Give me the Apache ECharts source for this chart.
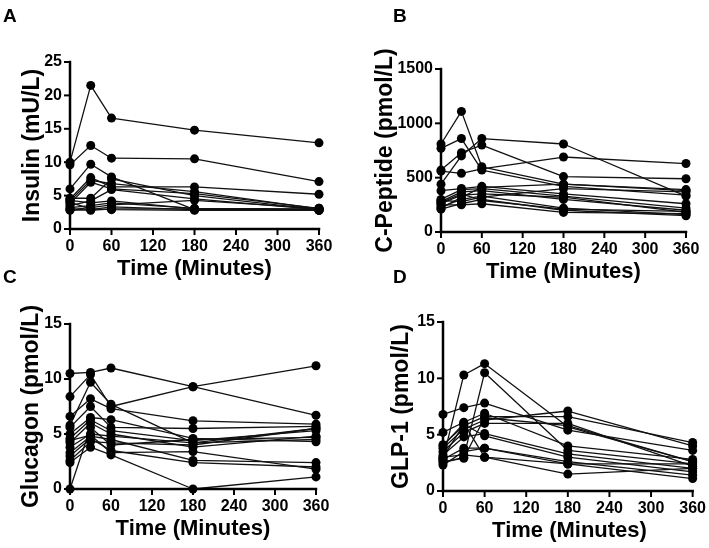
<!DOCTYPE html>
<html>
<head>
<meta charset="utf-8">
<script src="https://cdn.jsdelivr.net/npm/echarts@6/dist/echarts.min.js"></script>
<style>
  html, body { margin: 0; padding: 0; background: #fff; }
  #wrap { position: relative; width: 709px; height: 548px; overflow: hidden; }
  .panel { position: absolute; }
</style>
</head>
<body>
<div id="wrap">
  <div class="panel" id="pA" style="left:0;top:0;width:354px;height:290px"></div>
  <div class="panel" id="pB" style="left:354px;top:0;width:355px;height:290px"></div>
  <div class="panel" id="pC" style="left:0;top:260px;width:354px;height:288px"></div>
  <div class="panel" id="pD" style="left:354px;top:260px;width:355px;height:288px"></div>
</div>
<script>
// sampling times (minutes)
const times = [0, 30, 60, 180, 360];
const xTicks = [0, 60, 120, 180, 240, 300, 360];

// one row per subject, values at each time point
const insulin = [
  [10.0, 21.5, 16.6, 14.8, 12.9],
  [9.6, 12.5, 10.6, 10.5, 7.1],
  [6.0, 9.7, 7.8, 2.9, 2.9],
  [4.5, 7.7, 6.3, 6.3, 5.2],
  [4.2, 7.3, 6.8, 5.6, 3.0],
  [3.8, 7.0, 6.0, 5.3, 3.1],
  [4.6, 4.6, 7.5, 5.0, 2.9],
  [3.5, 4.2, 5.9, 4.5, 2.9],
  [4.3, 3.9, 4.2, 3.0, 2.8],
  [3.2, 3.5, 3.9, 3.1, 3.0],
  [2.9, 3.2, 3.6, 4.3, 3.1],
  [2.8, 2.9, 3.3, 2.9, 2.8],
  [3.0, 2.8, 3.0, 3.0, 2.9],
  [4.0, 3.0, 2.9, 2.8, 2.8]
];

const cPeptide = [
  [810, 1110, 600, 440, 380],
  [770, 860, 570, 420, 340],
  [440, 700, 860, 810, 330],
  [570, 730, 800, 510, 490],
  [560, 540, 580, 690, 630],
  [380, 400, 420, 350, 260],
  [300, 390, 400, 330, 220],
  [280, 370, 380, 300, 200],
  [260, 340, 350, 320, 180],
  [230, 300, 330, 220, 160],
  [210, 260, 300, 200, 150],
  [250, 250, 260, 180, 170],
  [290, 280, 320, 400, 370],
  [270, 350, 290, 210, 190],
  [220, 320, 410, 440, 390]
];

const glucagon = [
  [10.5, 10.6, 11.0, 9.3, 6.7],
  [8.4, 10.4, 7.5, 9.3, 11.2],
  [5.8, 9.7, 7.7, 4.2, 5.5],
  [6.6, 8.2, 7.3, 6.2, 5.9],
  [5.6, 7.5, 5.6, 5.5, 5.7],
  [5.0, 6.5, 6.3, 4.6, 4.3],
  [4.6, 6.3, 5.3, 4.4, 5.3],
  [4.2, 6.0, 5.0, 3.8, 4.8],
  [3.8, 5.0, 4.8, 4.2, 4.5],
  [3.3, 4.8, 4.5, 2.6, 2.4],
  [3.0, 4.6, 3.5, 2.4, 2.0],
  [2.6, 4.3, 4.2, 4.0, 5.5],
  [2.4, 3.8, 3.1, 0.0, 1.1],
  [0.0, 5.6, 4.0, 4.5, 4.7],
  [4.4, 4.9, 3.3, 3.4, 1.8]
];

const glp1 = [
  [2.8, 10.3, 11.3, 5.7, 2.6],
  [2.5, 3.0, 10.5, 3.6, 2.4],
  [6.8, 7.4, 7.8, 5.4, 3.6],
  [5.2, 6.1, 6.9, 4.0, 2.8],
  [4.1, 5.8, 6.6, 6.6, 4.3],
  [3.8, 5.5, 6.3, 7.1, 4.0],
  [3.5, 5.2, 6.0, 6.0, 2.2],
  [3.2, 4.8, 5.1, 3.3, 2.0],
  [3.0, 5.9, 4.9, 3.0, 1.7],
  [2.8, 3.8, 3.8, 2.6, 1.4],
  [2.3, 3.5, 3.8, 2.4, 1.1],
  [3.0, 3.2, 3.0, 1.5, 2.0],
  [2.6, 2.9, 6.5, 5.8, 2.6],
  [4.0, 6.0, 3.0, 2.4, 2.4]
];

const panelLetters = ['A', 'B', 'C', 'D'];
const xName = 'Time (Minutes)';
const yNames = ['Insulin (mU/L)', 'C-Peptide (pmol/L)', 'Glucagon (pmol/L)', 'GLP-1 (pmol/L)'];
const yMax = [25, 1500, 15, 15];
const yStep = [5, 500, 5, 5];
const panelData = [insulin, cPeptide, glucagon, glp1];
const panelIds = ['pA', 'pB', 'pC', 'pD'];

const font = 'Liberation Sans, Arial, sans-serif';

// panel geometry, relative to each panel's own box
const boxes = [[354, 290], [355, 290], [354, 288], [355, 288]];
const grids = [
  { left: 70, right: 35, top: 62, bottom: 61 },
  { left: 87, right: 23, top: 69, bottom: 58 },
  { left: 70, right: 38, top: 64, bottom: 59 },
  { left: 89, right: 13, top: 62, bottom: 57 }
];
const letterPos = [[3, 7], [39, 7], [3, 8], [39, 8]];
const yNameOffset = [37, 55, 38, 41];

const labelStyle = () => ({ fontFamily: font, fontWeight: 'bold', fontSize: 16, color: '#000' });

const titleText = (text, x, y, size, rot) => ({
  type: 'text',
  x: x,
  y: y,
  rotation: rot,
  silent: true,
  style: {
    text: text,
    fontFamily: font,
    fontWeight: 'bold',
    fontSize: size,
    fill: '#000',
    align: 'center',
    verticalAlign: 'middle'
  }
});

const seg = (x1, y1, x2, y2, w) => ({
  type: 'line',
  silent: true,
  z: 10,
  shape: { x1: x1, y1: y1, x2: x2, y2: y2 },
  style: { stroke: '#000', lineWidth: w, lineCap: 'square' }
});

panelData.forEach((rows, p) => {
  const chart = echarts.init(document.getElementById(panelIds[p]));
  const g = grids[p];
  const w = boxes[p][0], h = boxes[p][1];
  const axisY = h - g.bottom;
  const midX = (g.left + (w - g.right)) / 2;
  const midY = (g.top + axisY) / 2;

  const series = rows.map(row => ({
    type: 'line',
    data: times.map((t, k) => [t, row[k]]),
    symbol: 'circle',
    symbolSize: 9,
    lineStyle: { color: '#111', width: 1.3 },
    itemStyle: { color: '#000' },
    emphasis: { disabled: true },
    clip: false,
    animation: false
  }));

  chart.setOption({
    animation: false,
    title: {
      text: panelLetters[p],
      left: letterPos[p][0],
      top: letterPos[p][1],
      padding: 0,
      textStyle: { fontFamily: font, fontWeight: 'bold', fontSize: 19, color: '#000' }
    },
    grid: g,
    xAxis: {
      type: 'value',
      min: 0,
      max: 360,
      interval: 60,
      axisLine: { show: false },
      axisTick: { show: false },
      splitLine: { show: false },
      axisLabel: Object.assign(labelStyle(), { margin: 10 })
    },
    yAxis: {
      type: 'value',
      min: 0,
      max: yMax[p],
      interval: yStep[p],
      axisLine: { show: false },
      axisTick: { show: false },
      splitLine: { show: false },
      axisLabel: Object.assign(labelStyle(), { margin: 8, formatter: v => String(v) })
    },
    series: series
  });

  // axis lines and ticks placed through the chart's own scales
  const origin = chart.convertToPixel({ gridIndex: 0 }, [0, 0]);
  const xEnd = chart.convertToPixel({ gridIndex: 0 }, [360, 0]);
  const yEnd = chart.convertToPixel({ gridIndex: 0 }, [0, yMax[p]]);
  const marks = [
    seg(origin[0], origin[1], xEnd[0], xEnd[1], 2.5),
    seg(origin[0], origin[1], yEnd[0], yEnd[1], 2.5)
  ];
  xTicks.forEach(v => {
    const pt = chart.convertToPixel({ gridIndex: 0 }, [v, 0]);
    marks.push(seg(pt[0], pt[1], pt[0], pt[1] + 5, 2));
  });
  for (let v = 0; v <= yMax[p]; v += yStep[p]) {
    const pt = chart.convertToPixel({ gridIndex: 0 }, [0, v]);
    marks.push(seg(pt[0] - 5, pt[1], pt[0], pt[1], 2));
  }

  chart.setOption({
    graphic: [
      titleText(xName, midX, axisY + 40, 22, 0),
      titleText(yNames[p], g.left - yNameOffset[p], midY, 23, Math.PI / 2)
    ].concat(marks)
  });
});
</script>
</body>
</html>
